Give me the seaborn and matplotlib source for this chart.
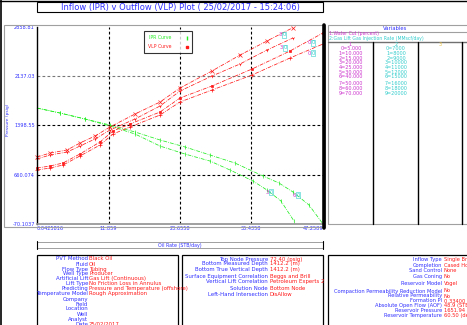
import matplotlib
matplotlib.use("Agg")
import matplotlib.pyplot as plt
import matplotlib.patches as mpatches
from matplotlib.lines import Line2D
import numpy as np
import pandas as pd
import seaborn as sns

# ---------------- data ----------------
rate_ipr_a = [0.04, 3.84, 7.97, 12.09, 16.22, 20.35, 24.48, 28.60, 32.73, 37.35, 39.99, 42.30, 44.95, 47.26]
pres_ipr_a = [1654, 1580, 1491, 1402, 1298, 1179, 1075, 956, 836, 644, 539, 406, 212, -70]
rate_ipr_b = [0.04, 3.84, 7.97, 12.09, 16.22, 20.35, 24.48, 28.60, 31.90, 35.70, 38.01, 40.32, 42.47]
pres_ipr_b = [1654, 1580, 1491, 1387, 1268, 1089, 970, 866, 733, 569, 435, 272, -26]

rate_vlp_1 = [0.04, 2.19, 5.00, 7.14, 9.62, 12.09, 16.22, 20.35, 23.65, 28.93, 33.56, 38.01, 42.30]
pres_vlp_1 = [926, 985, 1030, 1134, 1238, 1372, 1565, 1743, 1952, 2205, 2442, 2651, 2850]
rate_vlp_2 = [0.04, 2.19, 5.00, 7.14, 9.62, 12.09, 16.22, 20.35, 23.65, 28.93, 33.56, 38.01, 42.30]
pres_vlp_2 = [896, 956, 1000, 1089, 1194, 1327, 1491, 1684, 1907, 2130, 2309, 2517, 2695]
rate_vlp_3 = [0.04, 2.19, 4.34, 7.14, 10.44, 12.59, 15.40, 20.35, 23.65, 28.93, 35.54, 41.81, 47.26]
pres_vlp_3 = [762, 792, 837, 971, 1149, 1313, 1417, 1595, 1803, 1982, 2234, 2502, 2770]
rate_vlp_4 = [0.04, 2.19, 4.34, 7.14, 10.44, 12.59, 15.40, 20.35, 23.65, 28.93, 35.54, 41.81, 47.26]
pres_vlp_4 = [733, 762, 807, 941, 1104, 1268, 1372, 1550, 1744, 1922, 2145, 2398, 2606]

curve_tags = ["30", "00", "30", "00", "30", "60"]
curve_tag_x = [40.49, 45.28, 40.65, 45.28, 38.34, 42.80]
curve_tag_y = [2740, 2621, 2547, 2472, 405, 361]

x_ticks = [0.0425816, 11.859, 23.6558, 35.4358, 47.2589]
x_tick_labels = ["0.0425816", "11.859", "23.6558", "35.4358", "47.2589"]
y_ticks = [-70.1037, 660.074, 1398.55, 2137.03, 2858.81]
y_tick_labels = ["-70.1037", "660.074", "1398.55", "2137.03", "2858.81"]

var1_values = ["0=5.000", "1=10.000", "2=15.000", "3=20.000", "4=25.000",
               "5=30.000", "6=40.000", "7=50.000", "8=60.000", "9=70.000"]
var2_values = ["0=7000", "1=8000", "2=9000", "3=10000", "4=11000",
               "5=12000", "6=15000", "7=16000", "8=18000", "9=20000"]

box1_labels = ["PVT Method", "Fluid", "Flow Type", "Well Type", "Artificial Lift", "Lift Type",
               "Predicting", "Temperature Model", "Company", "Field", "Location", "Well",
               "Analyst", "Date"]
box1_values = ["Black Oil", "Oil", "Tubing", "Producer", "Gas Lift (Continuous)",
               "No Friction Loss in Annulus", "Pressure and Temperature (offshore)",
               "Rough Approximation", "", "", "", "", "", "25/02/2017"]
box2_labels = ["Top Node Pressure", "Bottom Measured Depth", "Bottom True Vertical Depth",
               "Surface Equipment Correlation", "Vertical Lift Correlation",
               "Solution Node", "Left-Hand Intersection"]
box2_values = ["72.40 (psig)", "1412.2 (m)", "1412.2 (m)", "Beggs and Brill",
               "Petroleum Experts 2", "Bottom Node", "DisAllow"]
box3_labels = ["Inflow Type", "Completion", "Sand Control", "Gas Coning", "Reservoir Model",
               "Compaction Permeability Reduction Model", "Relative Permeability",
               "Formation PI", "Absolute Open Flow (AOF)", "Reservoir Pressure",
               "Reservoir Temperature"]
box3_values = ["Single Branch", "Cased Hole", "None", "No", "Vogel", "No", "No",
               "0.33400 (STB/day/psi)", "48.9 (STB/day)", "1651.94 (psig)", "60.50 (deg C)"]

# ---------------- styling ----------------
sns.set_theme(style="white")
plt.rcParams["font.family"] = ["DejaVu Sans"]

BLUE = "#3030ff"
RED = "#ff1a1a"
GREEN = "#22ee22"
MAGENTA = "#cc33cc"
CYAN = "#33cccc"
YELLOW = "#e8c040"

W, H = 467, 325
fig = plt.figure(figsize=(W / 100, H / 100), dpi=100)
fig.patch.set_facecolor("white")


def fx(px):
    return px / W


def fy(py):
    return 1 - py / H


def fline(x0, y0, x1, y1, color="black", lw=0.8, ls="-"):
    fig.add_artist(Line2D([fx(x0), fx(x1)], [fy(y0), fy(y1)], transform=fig.transFigure,
                          color=color, lw=lw, ls=ls))


def frect(x0, y0, x1, y1, color="black", lw=0.8):
    fig.add_artist(mpatches.Rectangle((fx(x0), fy(y1)), (x1 - x0) / W, (y1 - y0) / H,
                                      transform=fig.transFigure, fill=False,
                                      edgecolor=color, lw=lw))


def ftext(px, py, s, color=BLUE, size=4.0, ha="left", **kw):
    fig.text(fx(px), fy(py), s, color=color, fontsize=size, ha=ha, va="center", **kw)


# ---------------- outer frames ----------------
fline(0, 0.5, W, 0.5, lw=1.0)
fline(0.5, 0, 0.5, H, lw=1.2)
frect(4, 25, 325, 227, color="#a0a0a0", lw=0.8)
frect(328, 25, 470, 224, color="#a0a0a0", lw=0.8)

# title
frect(37, 2, 323, 12, lw=0.8)
ftext(180, 7.2, "Inflow (IPR) v Outflow (VLP) Plot ( 25/02/2017 - 15:24:06)", size=6.0, ha="center")

# ---------------- main chart ----------------
ax = fig.add_axes([fx(37), fy(224), 286 / W, 197 / H])
ax.set_facecolor("white")

curves = [("IPR a", rate_ipr_a, pres_ipr_a, GREEN, "|"),
          ("IPR b", rate_ipr_b, pres_ipr_b, GREEN, "|"),
          ("VLP 1", rate_vlp_1, pres_vlp_1, RED, "x"),
          ("VLP 2", rate_vlp_2, pres_vlp_2, RED, "1"),
          ("VLP 3", rate_vlp_3, pres_vlp_3, RED, "s"),
          ("VLP 4", rate_vlp_4, pres_vlp_4, RED, "+")]
df = pd.concat([pd.DataFrame({"rate": r, "pressure": p, "curve": n}) for n, r, p, _, _ in curves],
               ignore_index=True)

for name, _, _, color, mk in curves:
    sub = df[df["curve"] == name]
    sns.lineplot(data=sub, x="rate", y="pressure", color=color, marker=mk, sort=False,
                 estimator=None, ax=ax, lw=0.55, linestyle=(0, (5, 1.5, 1, 1.5)),
                 markersize=2.4 if mk != "s" else 1.6, markeredgewidth=0.5,
                 markeredgecolor=color, clip_on=False)

ax.set_xlim(x_ticks[0], x_ticks[-1])
ax.set_ylim(y_ticks[0], y_ticks[-1])

for xv in x_ticks[1:4]:
    ax.axvline(xv, color="black", lw=0.8, ls=(0, (2.5, 2)), zorder=0)
ax.axhline(y_ticks[1], color="black", lw=0.8, ls=(0, (2.5, 2)), zorder=0)
ax.axhline(y_ticks[2], color="black", lw=0.8, ls=(0, (2.5, 2)), zorder=0)
ax.axhline(y_ticks[3], color="#777777", lw=0.8, ls=(0, (2.5, 2)), zorder=0)

ax.set_xticks(x_ticks)
ax.set_xticklabels(x_tick_labels)
ax.set_yticks(y_ticks)
ax.set_yticklabels(y_tick_labels)
ax.tick_params(axis="both", direction="in", length=2, width=0.6, colors="black",
               labelsize=3.6, labelcolor=BLUE, pad=1.5)
xl = ax.get_xticklabels()
xl[0].set_horizontalalignment("left")
xl[-1].set_horizontalalignment("right")
ax.set_xlabel("")
ax.set_ylabel("")

for side in ["top", "right"]:
    ax.spines[side].set_visible(False)
ax.spines["left"].set_color("black")
ax.spines["left"].set_linewidth(1.0)
ax.spines["bottom"].set_color("#909090")
ax.spines["bottom"].set_linewidth(1.2)

# curve tags (variable 1 index in magenta, variable 2 index in cyan)
for tag, tx, ty in zip(curve_tags, curve_tag_x, curve_tag_y):
    ax.annotate(tag[0], (tx, ty), xytext=(-0.2, 0), textcoords="offset points",
                ha="right", va="center", fontsize=3.8, color=MAGENTA)
    ax.annotate(tag[1], (tx, ty), xytext=(0.2, 0), textcoords="offset points",
                ha="left", va="center", fontsize=3.8, color=CYAN,
                bbox=dict(boxstyle="square,pad=0.05", fc="none", ec=CYAN, lw=0.4))

# legend
handles = [Line2D([], [], color=GREEN, marker="|", ls="none", markersize=3),
           Line2D([], [], color=RED, marker="s", ls="none", markersize=2)]
leg = ax.legend(handles, ["IPR Curve", "VLP Curve"], loc="upper left",
                bbox_to_anchor=(fx(144), fy(31)), bbox_transform=fig.transFigure,
                markerfirst=False, fontsize=3.3, frameon=True, fancybox=False,
                borderpad=0.9, handlelength=0.6, handletextpad=3.0, labelspacing=0.9,
                borderaxespad=0)
leg.get_frame().set_edgecolor("black")
leg.get_frame().set_linewidth(0.8)
for t, c in zip(leg.get_texts(), [GREEN, RED]):
    t.set_color(c)

# thick divider right of chart
fline(324, 25, 324, 228, lw=2.6)

# axis titles
ftext(8.5, 120, "Pressure (psig)", size=3.2, ha="center", rotation=90)
frect(37, 242, 323, 248, color="#a0a0a0", lw=0.7)
fline(37, 241, 37, 249, lw=0.8)
fline(323, 241, 323, 249, lw=0.8)
ftext(180, 245, "Oil Rate (STB/day)", size=3.4, ha="center")

# ---------------- variables panel ----------------
ftext(395, 28, "Variables", size=3.8, ha="center")
fline(328, 31.5, 467, 31.5, color="#a0a0a0", lw=0.8)
ftext(329, 33.6, "1:Water Cut (percent)", color=MAGENTA, size=3.3)
ftext(329, 38.6, "2:Gas Lift Gas Injection Rate (MMscf/day)", color=CYAN, size=3.3)
fline(328, 41.5, 467, 41.5, color="#707070", lw=1.0)
ftext(350, 44, "1", color=MAGENTA, size=3.6, ha="center")
ftext(396, 44, "2", color=CYAN, size=3.6, ha="center")
ftext(440, 44, "3", color=YELLOW, size=3.6, ha="center")
for xs in [373, 418, 462]:
    fline(xs, 41.5, xs, 224, lw=1.0)
row_y = [48.3, 53.3, 58.0, 62.8, 67.6, 72.6, 76.8, 83.3, 88.3, 93.0]
for yv, a, b in zip(row_y, var1_values, var2_values):
    ftext(351, yv, a, color=MAGENTA, size=3.5, ha="center")
    ftext(396, yv, b, color=CYAN, size=3.5, ha="center")

# ---------------- information boxes ----------------
frect(37, 255, 178, 332, lw=0.9)
frect(182, 255, 323, 332, lw=0.9)
frect(328, 255, 472, 332, lw=0.9)

box1_y = [259, 264, 269, 273.5, 278.5, 283.5, 288.5, 293.5, 299, 304, 309, 314, 319, 324]
for yv, lab, val in zip(box1_y, box1_labels, box1_values):
    ftext(88, yv, lab, size=3.9, ha="right")
    ftext(89, yv, val, color=RED, size=3.9)

box2_y = [259, 264, 269, 276.7, 281.7, 288.3, 294.3]
for yv, lab, val in zip(box2_y, box2_labels, box2_values):
    ftext(268, yv, lab, size=3.9, ha="right")
    ftext(269.5, yv, val, color=RED, size=3.9)

box3_y = [260, 265.7, 271, 276.7, 283.3, 291, 296, 301, 306, 310.7, 315.7]
for yv, lab, val in zip(box3_y, box3_labels, box3_values):
    ftext(442, yv, lab, size=3.7, ha="right")
    ftext(443.5, yv, val, color=RED, size=3.7)

fig.savefig("out.png", dpi=100, facecolor="white")
